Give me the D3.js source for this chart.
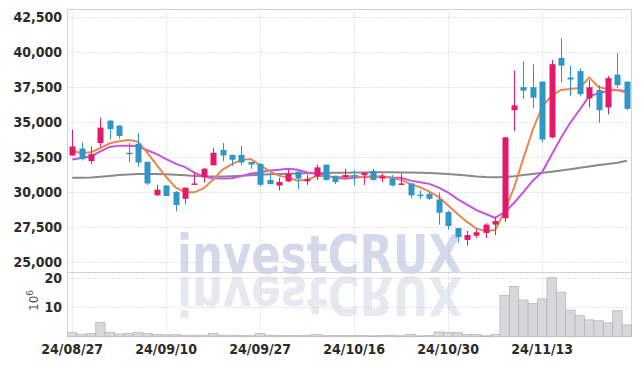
<!DOCTYPE html>
<html>
<head>
<meta charset="utf-8">
<script src="https://cdn.jsdelivr.net/npm/d3@7"></script>
<style>
  body { margin: 0; background: #fff; }
  text { font-family: "Liberation Sans Narrow", "DejaVu Sans Condensed", sans-serif; }
</style>
</head>
<body>
<svg id="chart" width="642" height="366"></svg>
<script>
// trading days (24/08/27 .. 24/11/26)
const dates = ["08/27","08/28","08/29","08/30","09/02","09/03","09/04","09/05","09/06","09/09",
  "09/10","09/11","09/12","09/13","09/19","09/20","09/23","09/24","09/25","09/26",
  "09/27","09/30","10/02","10/04","10/07","10/08","10/10","10/11","10/14","10/15",
  "10/16","10/17","10/18","10/21","10/22","10/23","10/24","10/25","10/28","10/29",
  "10/30","10/31","11/01","11/04","11/05","11/06","11/07","11/08","11/11","11/12",
  "11/13","11/14","11/15","11/18","11/19","11/20","11/21","11/22","11/25","11/26"];

const open = [32600,33100,32200,33500,35100,34750,32800,33450,32150,29750,
  30450,30000,29500,30550,31050,31900,33000,32650,32650,32150,
  32000,30850,30450,30750,31450,30750,31100,31950,31150,31050,
  31200,31200,31500,30950,30950,30500,30600,29800,29850,29450,
  28550,27400,26550,26850,27050,27650,28100,35850,37500,37500,
  37900,33900,39600,38200,38650,36700,37300,36050,38400,37900];
const high = [34450,33550,33250,35300,35150,34750,33500,34200,32150,30500,
  30500,30050,30300,31400,31700,33150,33500,32650,33300,32150,
  32050,31350,31000,31600,31450,31200,31950,31950,31150,31650,
  31550,31400,31650,31300,31200,31300,30600,30100,30000,29950,
  28650,27400,27200,27300,27750,28200,33950,38700,39350,39150,
  37900,39450,41000,39050,38850,38000,37650,38300,39950,37900];
const low = [32600,32250,32000,33250,33750,33800,32150,31800,30500,29700,
  29700,28600,29150,30550,30650,31900,32200,31850,31900,31650,
  30400,30550,30100,30700,30200,30500,30850,30800,30550,31000,
  30450,30500,30800,30700,30400,30500,29550,29500,29400,27650,
  27300,26350,26150,26700,26700,26900,27850,34350,36650,36000,
  33550,33850,37850,36850,36850,36050,34950,35550,37450,35850];
const close = [33250,32350,32700,34600,34500,34000,32750,32100,30600,30150,
  29700,29050,30300,30600,31650,32800,32600,32300,32100,31950,
  30500,30550,30700,31300,30950,30900,31750,30850,30700,31200,
  31150,31350,30850,31100,30450,30600,29750,29750,29500,28500,
  27550,26750,26900,27100,27650,27900,33900,36200,37250,36750,
  33750,39150,39050,38050,37000,37500,35850,38150,37650,35950];

// volume, millions of shares
const volume = [1.4,0.8,1.1,4.8,1.5,0.9,1.1,1.5,1.1,0.8,
  0.6,0.7,0.5,0.5,0.5,1.1,0.5,0.5,0.4,0.5,
  1.1,0.5,0.4,0.4,0.4,0.5,0.8,0.4,0.4,0.4,
  0.4,0.4,0.3,0.4,0.5,0.3,0.8,0.3,0.4,1.6,
  1.4,1.4,0.7,0.7,0.3,0.7,14.0,17.0,12.4,11.2,
  12.8,20.0,15.1,9.0,7.1,5.7,5.4,4.7,8.8,4.0];

// moving average lines
const maShort = [32900,32790,32830,33140,33480,33630,33710,33590,32790,31920,
  31060,30320,29960,29960,30260,30880,31590,31990,32290,32350,
  31890,31480,31160,31000,30800,30880,31120,31150,31030,31080,
  31130,31050,31050,31130,30980,30870,30550,30330,30010,29620,
  29010,28410,27840,27360,27190,27260,28600,30300,32400,34450,
  36100,36900,37300,37370,37450,38200,37500,37350,37300,37100];
const maMid = [32310,32430,32550,32905,33215,33310,33310,33260,32980,32700,
  32345,32015,31775,31375,31090,30970,30955,30975,31125,31305,
  31385,31535,31575,31645,31575,31385,31300,31155,31015,30940,
  31005,31085,31100,31080,31030,31000,30800,30690,30570,30300,
  29940,29480,29085,28685,28405,28135,28550,29195,29970,30795,
  31415,32655,33870,34965,35900,36860,37055,37250,37290,37210];
const maLong = [31000,31010,31030,31080,31140,31200,31240,31270,31280,31280,
  31260,31230,31180,31140,31110,31100,31100,31120,31150,31180,
  31220,31250,31280,31300,31320,31330,31340,31350,31360,31370,
  31380,31390,31400,31400,31400,31390,31380,31360,31340,31310,
  31270,31220,31160,31100,31060,31040,31060,31120,31200,31280,
  31360,31440,31530,31620,31720,31820,31920,32000,32080,32220];

const priceTicks = [25000,27500,30000,32500,35000,37500,40000,42500];
const volTicks = [10,20];
const labelIdx = [0,10,20,30,40,50];

const svg = d3.select("#chart");
const xLeft = 67.5, xRight = 631.5, yTop = 9.5, yMid = 272, yBottom = 336.7;

const x = d3.scaleBand().domain(d3.range(dates.length)).range([xLeft, xRight]).padding(0);
const cx = i => x(i) + x.bandwidth() / 2;
const y = d3.scaleLinear().domain([24250, 43070]).range([yMid, yTop]);
const yv = d3.scaleLinear().domain([0, 21.9]).range([yBottom, yMid]);

// watermark + reflection
const wm = svg.append("g")
  .style("font-family", "DejaVu Sans").style("font-weight", "bold").style("font-size", "54px");
wm.append("text")
  .attr("x", 177).attr("y", 273)
  .attr("textLength", 285).attr("lengthAdjust", "spacingAndGlyphs")
  .attr("fill", "#d3d9ea")
  .text("investCRUX");
wm.append("text")
  .attr("transform", "translate(0,550) scale(1,-1)")
  .attr("x", 177).attr("y", 273)
  .attr("textLength", 285).attr("lengthAdjust", "spacingAndGlyphs")
  .attr("fill", "#e7e9f1")
  .text("investCRUX");

// grid
const grid = svg.append("g").attr("stroke", "#c6cadc").attr("stroke-dasharray", "1,2");
grid.selectAll(".hp").data(priceTicks).join("line")
  .attr("x1", xLeft).attr("x2", xRight)
  .attr("y1", d => Math.round(y(d)) + 0.5).attr("y2", d => Math.round(y(d)) + 0.5);
grid.selectAll(".hv").data(volTicks).join("line")
  .attr("x1", xLeft).attr("x2", xRight)
  .attr("y1", d => Math.round(yv(d)) + 0.5).attr("y2", d => Math.round(yv(d)) + 0.5);
grid.selectAll(".vx").data(labelIdx).join("line")
  .attr("x1", i => Math.round(cx(i)) + 0.5).attr("x2", i => Math.round(cx(i)) + 0.5)
  .attr("y1", yTop).attr("y2", yBottom);

// frame
const frame = svg.append("g").attr("stroke", "#d0d2da").attr("fill", "none");
frame.append("line").attr("x1", xLeft).attr("x2", xRight).attr("y1", yTop).attr("y2", yTop);
frame.append("line").attr("x1", xLeft).attr("x2", xRight).attr("y1", yMid + 0.5).attr("y2", yMid + 0.5);
frame.append("line").attr("x1", xLeft).attr("x2", xLeft).attr("y1", yTop).attr("y2", yBottom);
frame.append("line").attr("x1", xRight).attr("x2", xRight).attr("y1", yTop).attr("y2", yBottom);

// volume bars
svg.append("g").selectAll("rect").data(volume).join("rect")
  .attr("x", (d, i) => x(i))
  .attr("width", x.bandwidth())
  .attr("y", d => yv(d))
  .attr("height", d => yBottom - yv(d))
  .attr("fill", "#d8d8da")
  .attr("stroke", "#b8b8bc")
  .attr("stroke-width", 0.8);

// moving averages
const line = arr => d3.line().x((d, i) => cx(i)).y(d => y(d))(arr);
svg.append("path").attr("d", line(maLong)).attr("fill", "none")
  .attr("stroke", "#7c7c7c").attr("stroke-width", 2).attr("opacity", 0.9);
svg.append("path").attr("d", line(maMid)).attr("fill", "none")
  .attr("stroke", "#c653e6").attr("stroke-width", 2);
svg.append("path").attr("d", line(maShort)).attr("fill", "none")
  .attr("stroke", "#ec8650").attr("stroke-width", 2);

// candles (red = up, blue = down)
const color = i => close[i] >= open[i] ? "#e5196a" : "#2f96c8";
const candles = svg.append("g").selectAll("g").data(d3.range(dates.length)).join("g");
candles.append("line")
  .attr("x1", i => Math.round(cx(i)) + 0.5).attr("x2", i => Math.round(cx(i)) + 0.5)
  .attr("y1", i => y(high[i])).attr("y2", i => y(low[i]))
  .attr("stroke", color).attr("stroke-width", 1);
candles.append("rect")
  .attr("x", i => Math.round(cx(i)) - 2.5)
  .attr("width", 6)
  .attr("y", i => y(Math.max(open[i], close[i])))
  .attr("height", i => Math.max(1.5, Math.abs(y(open[i]) - y(close[i]))))
  .attr("fill", color);

// axis labels
const lab = svg.append("g").attr("fill", "#2a2a2a")
  .style("font-size", "14px").style("font-weight", "bold");
lab.selectAll(".py").data(priceTicks).join("text")
  .attr("x", 62).attr("y", d => y(d) + 5)
  .attr("text-anchor", "end")
  .text(d => d3.format(",")(d));
lab.selectAll(".vy").data(volTicks).join("text")
  .attr("x", 62).attr("y", d => yv(d) + 5)
  .attr("text-anchor", "end")
  .text(d => d);
lab.selectAll(".dx").data(labelIdx).join("text")
  .attr("x", i => cx(i)).attr("y", 354)
  .attr("text-anchor", "middle")
  .text(i => "24/" + dates[i]);

// unit label
const unit = svg.append("text")
  .attr("transform", "translate(38,311) rotate(-90)")
  .attr("fill", "#555").style("font-size", "12px")
  .style("font-family", "DejaVu Sans, sans-serif");
unit.append("tspan").text("10");
unit.append("tspan").attr("dy", -5).style("font-size", "9px").text("6");
</script>
</body>
</html>
